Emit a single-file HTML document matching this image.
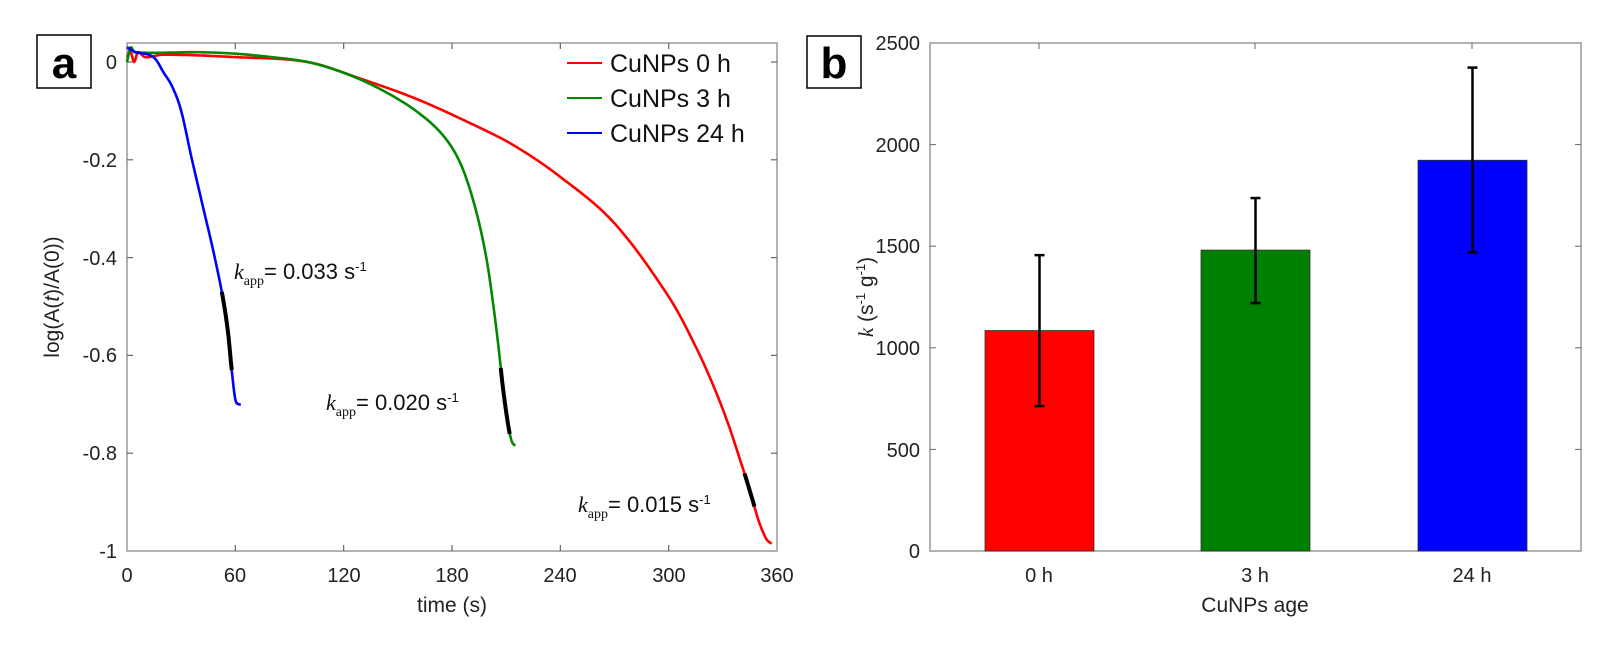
<!DOCTYPE html>
<html><head><meta charset="utf-8"><style>
body{margin:0;background:#fff;width:1603px;height:648px;overflow:hidden}
svg{font-family:"Liberation Sans",sans-serif}
</style></head><body>
<svg id="s" width="1603" height="648" viewBox="0 0 1603 648" xmlns="http://www.w3.org/2000/svg">
<rect x="127" y="43" width="650" height="508" fill="none" stroke="#888" stroke-width="1.3"/>
<g id="ta" stroke="#666" stroke-width="1.2"></g>
<g font-size="20" fill="#222" text-anchor="middle">
<text x="127" y="582">0</text><text x="235" y="582">60</text><text x="344" y="582">120</text><text x="452" y="582">180</text><text x="560" y="582">240</text><text x="669" y="582">300</text><text x="777" y="582">360</text>
</g>
<g font-size="20" fill="#222" text-anchor="end">
<text x="117" y="69">0</text><text x="117" y="167">-0.2</text><text x="117" y="265">-0.4</text><text x="117" y="362">-0.6</text><text x="117" y="460">-0.8</text><text x="117" y="558">-1</text>
</g>
<text x="452" y="612" font-size="21" fill="#222" text-anchor="middle">time (s)</text>
<text transform="translate(59,297) rotate(-90)" font-size="21" fill="#222" text-anchor="middle">log(A(<tspan font-style="italic">t</tspan>)/A(0))</text>
<g id="curves" fill="none" stroke-width="2.6" stroke-linejoin="round"></g>
<rect x="37" y="35" width="54" height="53" fill="#fff" stroke="#000" stroke-width="1.5"/>
<text x="64" y="78" font-size="44" font-weight="bold" text-anchor="middle">a</text>
<g font-size="25" fill="#111">
<line x1="567" y1="63" x2="602" y2="63" stroke="#f00" stroke-width="2"/><text x="610" y="72">CuNPs 0 h</text>
<line x1="567" y1="98" x2="602" y2="98" stroke="#080" stroke-width="2"/><text x="610" y="107">CuNPs 3 h</text>
<line x1="567" y1="133" x2="602" y2="133" stroke="#00f" stroke-width="2"/><text x="610" y="142">CuNPs 24 h</text>
</g>
<g font-size="22" fill="#111" font-family="Liberation Serif, serif">
<text x="234" y="279"><tspan font-style="italic">k</tspan><tspan font-size="14" dy="6">app</tspan><tspan dy="-6" font-family="Liberation Sans">= 0.033 s</tspan><tspan font-size="13" dy="-8" font-family="Liberation Sans">-1</tspan></text>
<text x="326" y="410"><tspan font-style="italic">k</tspan><tspan font-size="14" dy="6">app</tspan><tspan dy="-6" font-family="Liberation Sans">= 0.020 s</tspan><tspan font-size="13" dy="-8" font-family="Liberation Sans">-1</tspan></text>
<text x="578" y="512"><tspan font-style="italic">k</tspan><tspan font-size="14" dy="6">app</tspan><tspan dy="-6" font-family="Liberation Sans">= 0.015 s</tspan><tspan font-size="13" dy="-8" font-family="Liberation Sans">-1</tspan></text>
</g>
<rect x="930" y="43" width="651" height="508" fill="none" stroke="#888" stroke-width="1.3"/>
<g id="bars"></g>
<g font-size="20" fill="#222" text-anchor="end">
<text x="920" y="558">0</text><text x="920" y="457">500</text><text x="920" y="355">1000</text><text x="920" y="253">1500</text><text x="920" y="152">2000</text><text x="920" y="50">2500</text>
</g>
<g font-size="20" fill="#222" text-anchor="middle">
<text x="1039" y="582">0 h</text><text x="1255" y="582">3 h</text><text x="1472" y="582">24 h</text>
</g>
<text x="1255" y="612" font-size="21" fill="#222" text-anchor="middle">CuNPs age</text>
<text transform="translate(873,297) rotate(-90)" font-size="21" fill="#222" text-anchor="middle"><tspan font-style="italic" font-family="Liberation Serif">k</tspan> (s<tspan font-size="13" dy="-8">-1</tspan><tspan dy="8"> g</tspan><tspan font-size="13" dy="-8">-1</tspan><tspan dy="8">)</tspan></text>
<rect x="807" y="36" width="54" height="52" fill="#fff" stroke="#000" stroke-width="1.5"/>
<text x="834" y="78" font-size="44" font-weight="bold" text-anchor="middle">b</text>
</svg>
<script>
const NS="http://www.w3.org/2000/svg";
function el(p,t,a){const e=document.createElementNS(NS,t);for(const k in a)e.setAttribute(k,a[k]);p.appendChild(e);return e;}
const X=t=>127+t*650/360, Y=v=>62-v*489;
const ta=document.getElementById('ta');
[60,120,180,240,300].forEach(t=>{el(ta,'line',{x1:X(t),y1:551,x2:X(t),y2:545});el(ta,'line',{x1:X(t),y1:43,x2:X(t),y2:49});});
[0,-0.2,-0.4,-0.6,-0.8].forEach(v=>{el(ta,'line',{x1:127,y1:Y(v),x2:133,y2:Y(v)});el(ta,'line',{x1:777,y1:Y(v),x2:771,y2:Y(v)});});
function interp(p,t){for(let i=0;i<p.length-1;i++){if(t>=p[i][0]&&t<=p[i+1][0]){const a=p[i],b=p[i+1];const a0=p[Math.max(0,i-1)],b1=p[Math.min(p.length-1,i+2)];const h=b[0]-a[0];const f=(t-a[0])/h;
const m0=(b[1]-a0[1])/(b[0]-a0[0]||1)*h, m1=(b1[1]-a[1])/(b1[0]-a[0]||1)*h;
const f2=f*f,f3=f2*f;return (2*f3-3*f2+1)*a[1]+(f3-2*f2+f)*m0+(-2*f3+3*f2)*b[1]+(f3-f2)*m1;}}return p[p.length-1][1];}
function path(pts,t0,t1,step){let d='';for(let t=t0;t<=t1+1e-9;t+=step){d+=(d?'L':'M')+X(t).toFixed(1)+','+Y(interp(pts,t)).toFixed(1);}return d;}
const blue=[[0,0.03],[5,0.02],[12,0.015],[16,0.005],[20,-0.02],[25,-0.05],[30,-0.1],[36,-0.2],[42,-0.295],[48,-0.39],[53,-0.48],[56,-0.555],[58,-0.63],[60,-0.69],[62,-0.70],[63,-0.70]];
const green=[[0,0],[2,0.03],[4,0.02],[40,0.02],[60,0.017],[80,0.01],[100,0.0],[120,-0.022],[140,-0.055],[160,-0.1],[175,-0.15],[185,-0.21],[193,-0.3],[199,-0.4],[203,-0.5],[206,-0.59],[208,-0.66],[211,-0.74],[213,-0.775],[215,-0.785]];
const red=[[0,0.01],[2,0.02],[4,0.0],[6,0.02],[10,0.01],[20,0.015],[60,0.01],[100,0.0],[130,-0.035],[160,-0.075],[190,-0.125],[214,-0.17],[240,-0.235],[270,-0.33],[300,-0.48],[316,-0.59],[330,-0.71],[341,-0.83],[346,-0.89],[350,-0.94],[354,-0.975],[357,-0.985]];
const g=document.getElementById('curves');
el(g,'path',{d:path(red,0,357,0.5),stroke:'#f00'});
el(g,'path',{d:path(green,0,215,0.5),stroke:'#080'});
el(g,'path',{d:path(blue,0,63,0.25),stroke:'#00f'});
el(g,'path',{d:path(blue,52.5,58,0.25),stroke:'#000','stroke-width':4});
el(g,'path',{d:path(green,207,212,0.25),stroke:'#000','stroke-width':4});
el(g,'path',{d:path(red,342,347.5,0.25),stroke:'#000','stroke-width':4});
const B=v=>551-v*508/2500;
const bg=document.getElementById('bars');
[500,1000,1500,2000].forEach(v=>{el(bg,'line',{x1:930,y1:B(v),x2:936,y2:B(v),stroke:'#666'});el(bg,'line',{x1:1581,y1:B(v),x2:1575,y2:B(v),stroke:'#666'});});
[1039,1255,1472].forEach(x=>{el(bg,'line',{x1:x,y1:43,x2:x,y2:49,stroke:'#666'});});
[[985,1085,'#f00',713,1456],[1201,1481,'#008000',1220,1737],[1418,1923,'#00f',1470,2379]].forEach(([x,v,c,lo,hi])=>{
 el(bg,'rect',{x:x,y:B(v),width:109,height:551-B(v),fill:c,stroke:'#333','stroke-width':0.8});
 const cx=x+54.5;
 el(bg,'line',{x1:cx,y1:B(lo),x2:cx,y2:B(hi),stroke:'#000','stroke-width':2.5});
 el(bg,'line',{x1:cx-5,y1:B(lo),x2:cx+5,y2:B(lo),stroke:'#000','stroke-width':2.5});
 el(bg,'line',{x1:cx-5,y1:B(hi),x2:cx+5,y2:B(hi),stroke:'#000','stroke-width':2.5});
});
</script>
</body></html>
